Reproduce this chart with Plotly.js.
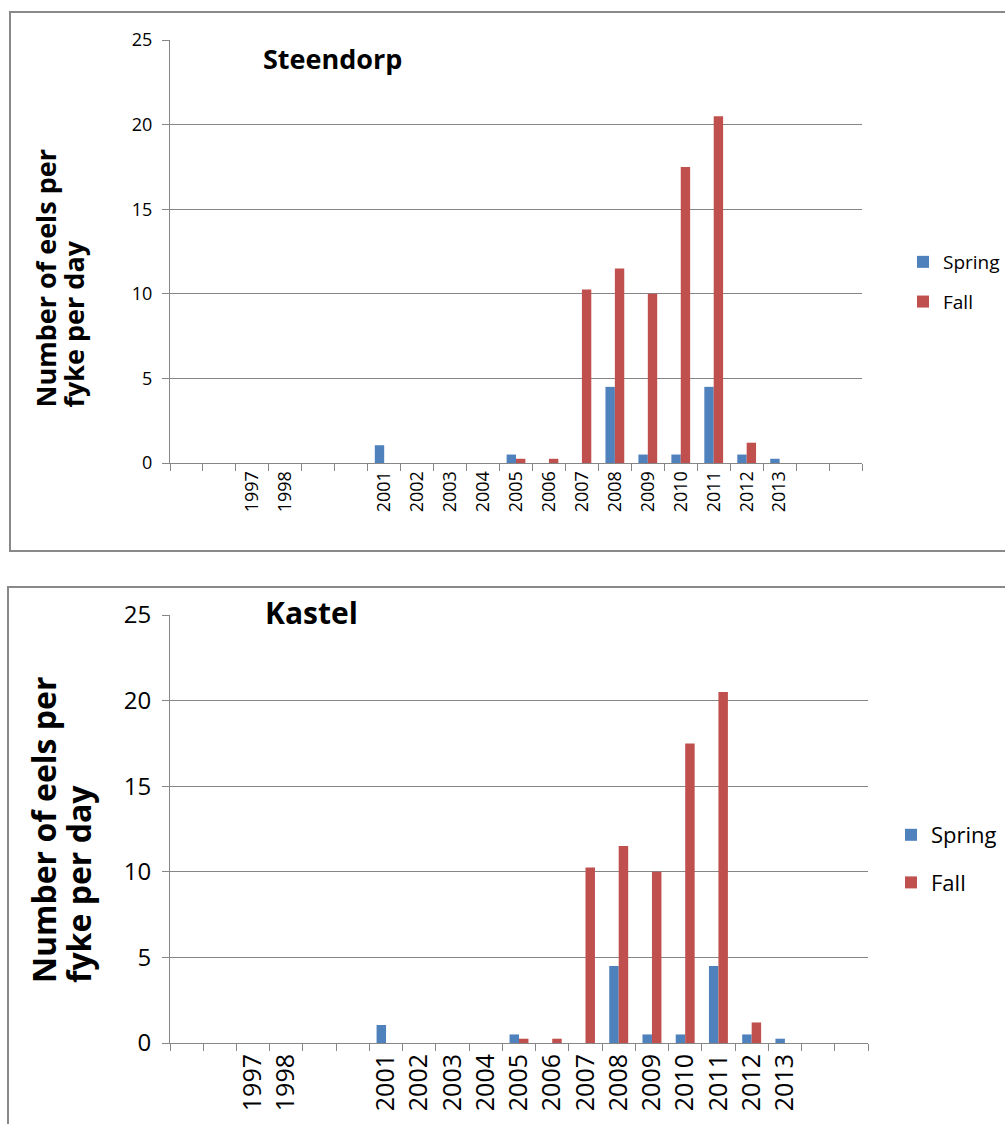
<!DOCTYPE html>
<html>
<head>
<meta charset="utf-8">
<script src="https://cdn.plot.ly/plotly-3.0.1.min.js"></script>
<style>html,body{margin:0;padding:0;background:#fff;}#chart{width:1005px;height:1124px;}</style>
</head>
<body>
<div id="chart"></div>
<script>
// Category labels (blank slots are empty categories on the axis)
const categoryLabels = ['', '', '1997', '1998', '', '', '2001', '2002', '2003', '2004', '2005', '2006', '2007', '2008', '2009', '2010', '2011', '2012', '2013', '', ''];

// Steendorp
const steendorpSpring = [null, null, 0, 0, null, null, 1.05, 0, 0, 0, 0.5, 0, 0, 4.5, 0.5, 0.5, 4.5, 0.5, 0.25, null, null];
const steendorpFall   = [null, null, 0, 0, null, null, 0, 0, 0, 0, 0.25, 0.25, 10.25, 11.5, 10, 17.5, 20.5, 1.2, 0, null, null];

// Kastel
const kastelSpring = [null, null, 0, 0, null, null, 1.05, 0, 0, 0, 0.5, 0, 0, 4.5, 0.5, 0.5, 4.5, 0.5, 0.25, null, null];
const kastelFall   = [null, null, 0, 0, null, null, 0, 0, 0, 0, 0.25, 0.25, 10.25, 11.5, 10, 17.5, 20.5, 1.2, 0, null, null];

const seriesNames = ['Spring', 'Fall'];
const panelTitles = ['Steendorp', 'Kastel'];
const yTitleLines = ['Number of eels per', 'fyke per day'];

const ids = categoryLabels.map((_, i) => 'c' + i);
const BLUE = '#4F81BD', RED = '#C0504D', GRID = '#868686';
const W = 1005, H = 1124;
const px = v => v / W;
const py = v => 1 - v / H;
const FONT = 'Open Sans, Liberation Sans, sans-serif';

const traces = [
  {type: 'bar', name: seriesNames[0], x: ids, y: steendorpSpring, marker: {color: BLUE}, xaxis: 'x', yaxis: 'y', legend: 'legend', legendgroup: 'a'},
  {type: 'bar', name: seriesNames[1], x: ids, y: steendorpFall, marker: {color: RED}, xaxis: 'x', yaxis: 'y', legend: 'legend', legendgroup: 'b'},
  {type: 'bar', name: seriesNames[0], x: ids, y: kastelSpring, marker: {color: BLUE}, xaxis: 'x2', yaxis: 'y2', legend: 'legend2', legendgroup: 'c'},
  {type: 'bar', name: seriesNames[1], x: ids, y: kastelFall, marker: {color: RED}, xaxis: 'x2', yaxis: 'y2', legend: 'legend2', legendgroup: 'd'}
];
traces.forEach(t => { t.hoverinfo = 'skip'; });

function xAxis(domain, anchor, fs) {
  return {
    domain: domain, anchor: anchor, type: 'category',
    categoryorder: 'array', categoryarray: ids,
    tickmode: 'array', tickvals: ids, ticktext: categoryLabels,
    tickson: 'boundaries', ticks: 'outside', ticklen: 7, tickcolor: GRID, tickwidth: 1,
    tickangle: -90, tickfont: {family: FONT, size: fs, color: '#000'},
    showline: true, linecolor: GRID, linewidth: 1,
    showgrid: false, zeroline: false, range: [-0.5, 20.5], fixedrange: true
  };
}
function yAxis(domain, anchor, fs, standoff) {
  return {
    domain: domain, anchor: anchor, range: [0, 25], tickmode: 'linear', tick0: 0, dtick: 5,
    ticks: 'outside', ticklen: 7, tickcolor: GRID, tickwidth: 1,
    tickfont: {family: FONT, size: fs, color: '#000'}, ticklabelstandoff: standoff,
    showline: true, linecolor: GRID, linewidth: 1,
    showgrid: true, gridcolor: GRID, gridwidth: 1, zeroline: false, fixedrange: true
  };
}

function yTitleAnn(x, yBottom, size, line) {
  return {xref: 'paper', yref: 'paper', x: px(x), y: py(yBottom), xanchor: 'center', yanchor: 'bottom',
    showarrow: false, textangle: -90, text: '<b>' + line + '</b>', font: {family: FONT, size: size, color: '#000'}};
}

const layout = {
  width: W, height: H,
  margin: {l: 0, r: 0, t: 0, b: 0},
  paper_bgcolor: '#fff', plot_bgcolor: '#fff',
  barmode: 'group', bargap: 0.43, bargroupgap: 0,
  xaxis: xAxis([px(170), px(862)], 'y', 18),
  yaxis: yAxis([py(463), py(40)], 'x', 18, 6),
  xaxis2: xAxis([px(170), px(868)], 'y2', 25),
  yaxis2: yAxis([py(1043), py(615)], 'x2', 24, 6),
  legend: {x: px(903), y: py(243), xanchor: 'left', yanchor: 'top', font: {family: FONT, size: 19, color: '#000'}, tracegroupgap: 12, bgcolor: 'rgba(0,0,0,0)'},
  legend2: {x: px(891), y: py(814), xanchor: 'left', yanchor: 'top', font: {family: FONT, size: 22, color: '#000'}, tracegroupgap: 16, bgcolor: 'rgba(0,0,0,0)'},
  shapes: [
    {type: 'rect', xref: 'paper', yref: 'paper', x0: px(10), x1: px(1015), y0: py(551), y1: py(12), line: {color: '#898989', width: 2}},
    {type: 'rect', xref: 'paper', yref: 'paper', x0: px(8), x1: px(1015), y0: py(1135), y1: py(587), line: {color: '#898989', width: 2}}
  ],
  annotations: [
    {xref: 'paper', yref: 'paper', x: px(261), y: py(58), xanchor: 'left', yanchor: 'middle', showarrow: false, text: '<b>' + panelTitles[0] + '</b>', font: {family: FONT, size: 27, color: '#000'}},
    {xref: 'paper', yref: 'paper', x: px(263), y: py(612), xanchor: 'left', yanchor: 'middle', showarrow: false, text: '<b>' + panelTitles[1] + '</b>', font: {family: FONT, size: 30, color: '#000'}},
    yTitleAnn(45, 410, 27, yTitleLines[0]),
    yTitleAnn(73, 410, 27, yTitleLines[1]),
    yTitleAnn(43, 985, 32, yTitleLines[0]),
    yTitleAnn(78, 985, 32, yTitleLines[1])
  ]
};

Plotly.newPlot('chart', traces, layout, {displayModeBar: false, staticPlot: true});
</script>
</body>
</html>
